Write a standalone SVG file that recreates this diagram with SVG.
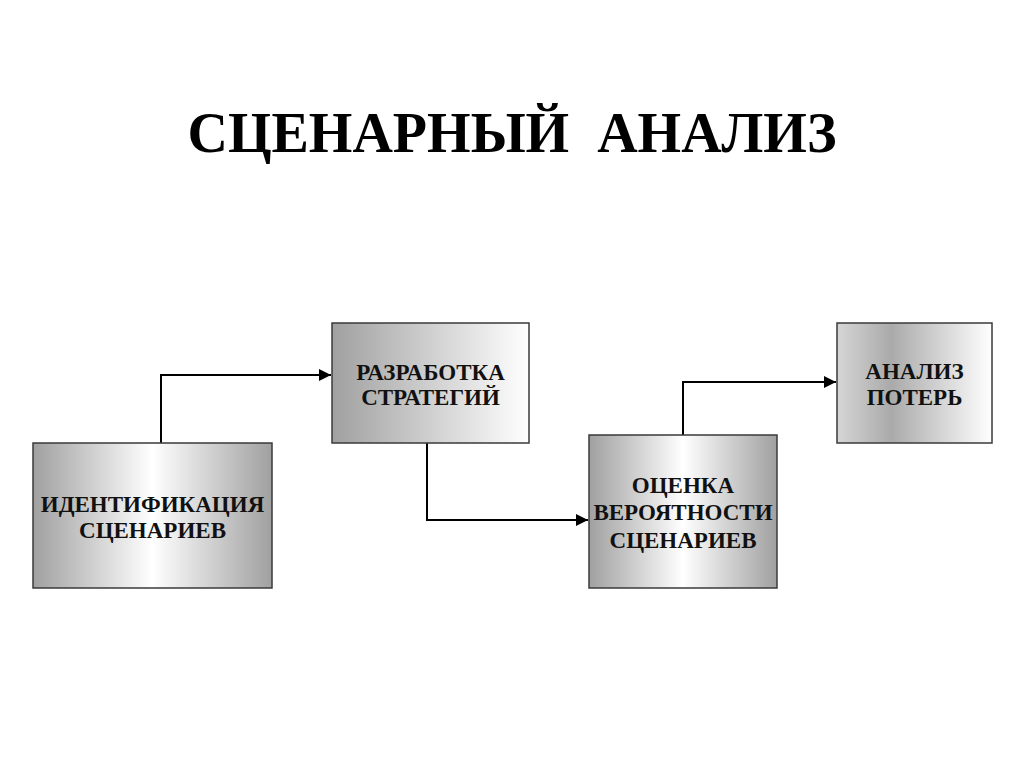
<svg xmlns="http://www.w3.org/2000/svg" width="1024" height="767" viewBox="0 0 1024 767">
  <defs>
    <linearGradient id="gReflect" x1="0" y1="0" x2="1" y2="0">
      <stop offset="0" stop-color="#a0a0a0"/>
      <stop offset="0.5" stop-color="#ffffff"/>
      <stop offset="1" stop-color="#a0a0a0"/>
    </linearGradient>
    <linearGradient id="gLeft" x1="0" y1="0" x2="1" y2="0">
      <stop offset="0" stop-color="#a0a0a0"/>
      <stop offset="1" stop-color="#ffffff"/>
    </linearGradient>
    <linearGradient id="gLoss" x1="0" y1="0" x2="1" y2="0">
      <stop offset="0" stop-color="#d6d6d6"/>
      <stop offset="0.35" stop-color="#aaaaaa"/>
      <stop offset="1" stop-color="#ffffff"/>
    </linearGradient>
    <marker id="arrow" viewBox="0 0 10 10" refX="10" refY="5" markerWidth="6" markerHeight="6" markerUnits="strokeWidth" orient="auto">
      <path d="M0,0 L10,5 L0,10 z" fill="#000"/>
    </marker>
  </defs>
  <style>
    .box { stroke: #3a3a3a; stroke-width: 1.5; }
    .lbl { font-family: "Liberation Serif", "Times New Roman", serif; font-weight: bold; font-size: 23px; fill: #111; text-anchor: middle; }
    .title { font-family: "Liberation Serif", "Times New Roman", serif; font-weight: bold; font-size: 56px; fill: #000; text-anchor: middle; }
    .conn { fill: none; stroke: #000; stroke-width: 2; marker-end: url(#arrow); }
  </style>
  <rect width="1024" height="767" fill="#ffffff"/>
  <text class="title" x="512" y="152" xml:space="preserve">СЦЕНАРНЫЙ  АНАЛИЗ</text>

  <g id="connectors">
    <path class="conn" d="M161,443 V375 H331"/>
    <path class="conn" d="M427,443 V520 H588"/>
    <path class="conn" d="M683,435 V382 H836"/>
  </g>

  <g id="node-identification">
    <rect class="box" x="33" y="443" width="239" height="145" fill="url(#gReflect)"/>
    <text class="lbl" x="152.5" y="512">ИДЕНТИФИКАЦИЯ</text>
    <text class="lbl" x="152.5" y="538">СЦЕНАРИЕВ</text>
  </g>
  <g id="node-strategy">
    <rect class="box" x="332" y="323" width="197" height="120" fill="url(#gLeft)"/>
    <text class="lbl" x="430.5" y="380">РАЗРАБОТКА</text>
    <text class="lbl" x="430.5" y="405">СТРАТЕГИЙ</text>
  </g>
  <g id="node-probability">
    <rect class="box" x="589" y="435" width="188" height="153" fill="url(#gReflect)"/>
    <text class="lbl" x="683" y="493">ОЦЕНКА</text>
    <text class="lbl" x="683" y="520">ВЕРОЯТНОСТИ</text>
    <text class="lbl" x="683" y="548">СЦЕНАРИЕВ</text>
  </g>
  <g id="node-loss">
    <rect class="box" x="837" y="323" width="155" height="120" fill="url(#gLoss)"/>
    <text class="lbl" x="914.5" y="379">АНАЛИЗ</text>
    <text class="lbl" x="914.5" y="405">ПОТЕРЬ</text>
  </g>
</svg>
